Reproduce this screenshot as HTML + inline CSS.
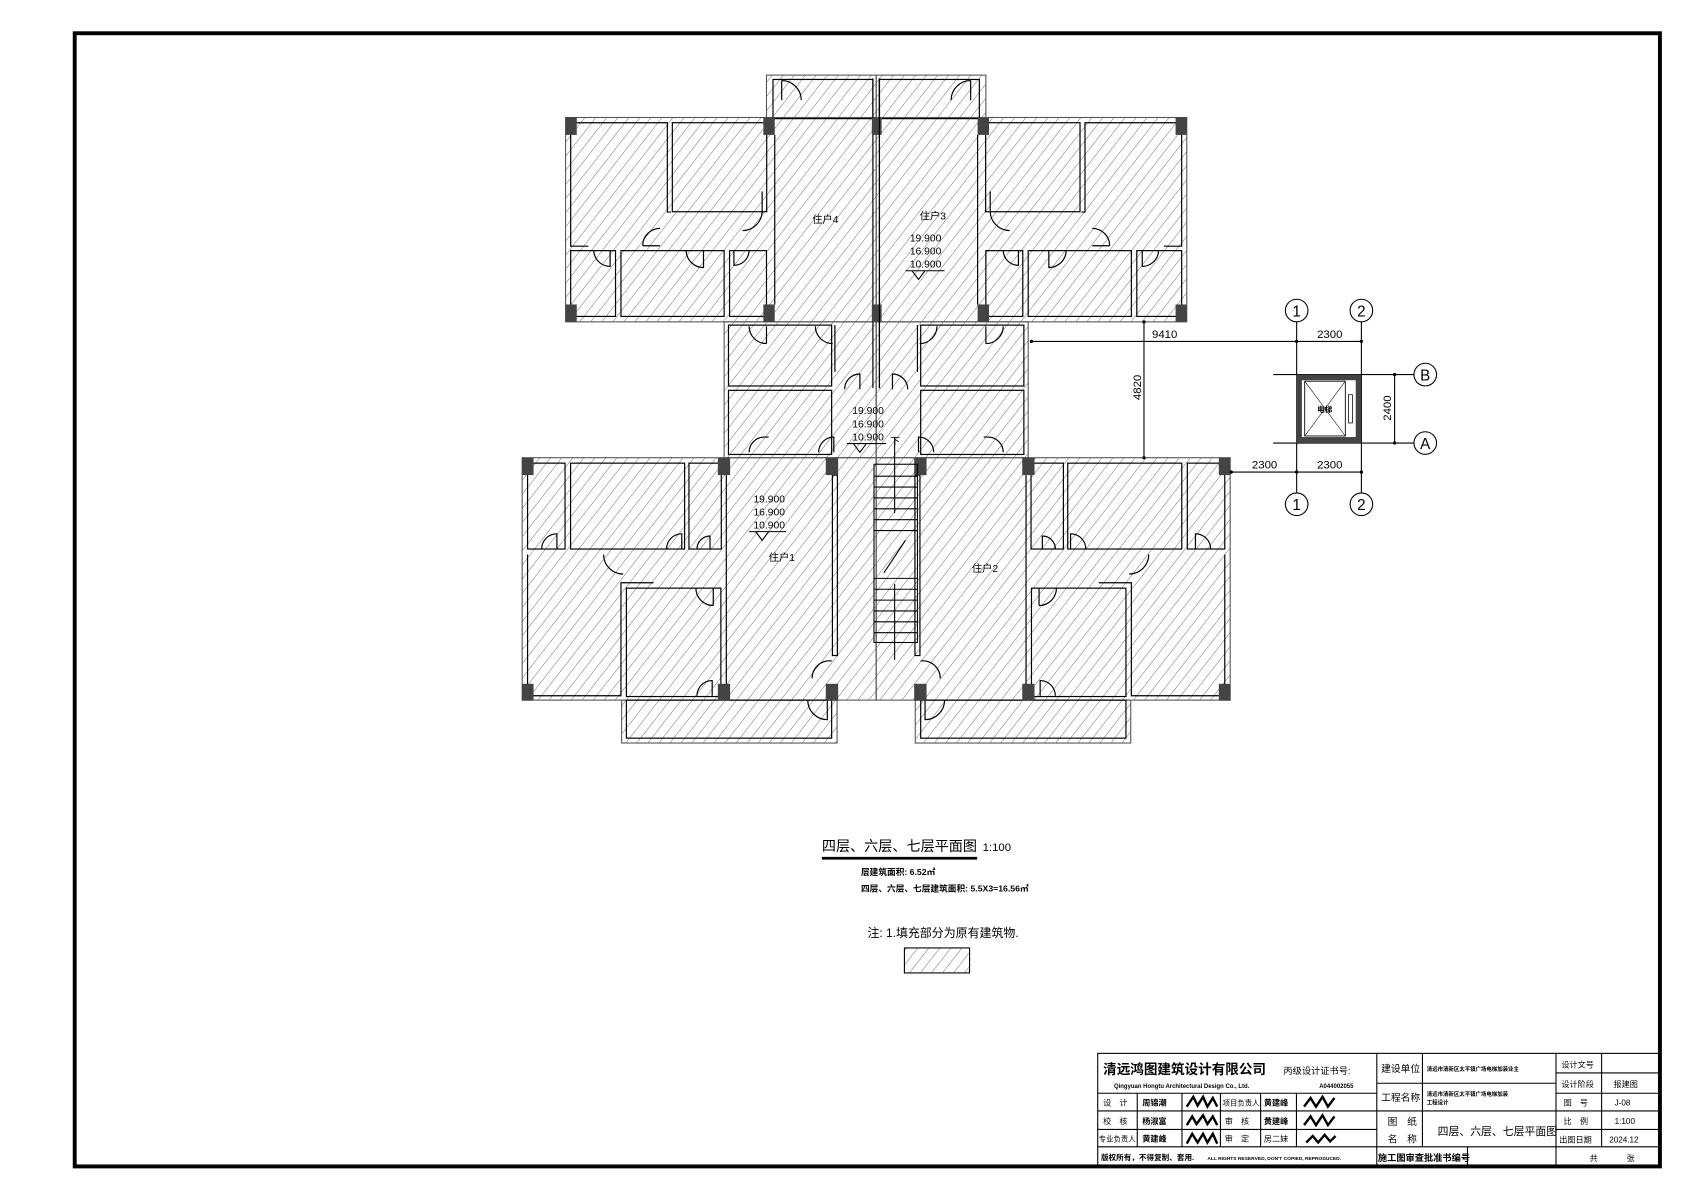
<!DOCTYPE html>
<html><head><meta charset="utf-8"><style>
html,body{margin:0;padding:0;background:#fff;}
svg{display:block;}
text{font-family:"Liberation Sans","Noto Sans CJK SC",sans-serif;}
.c{font-family:"Liberation Sans","Noto Sans CJK SC",sans-serif;}
</style></head><body>
<svg width="1700" height="1200" viewBox="-1.8 -2.1 1565.4 1104" preserveAspectRatio="none" xmlns="http://www.w3.org/2000/svg">
<defs>
<pattern id="h" patternUnits="userSpaceOnUse" width="8" height="8" patternTransform="rotate(38)">
<line x1="0" y1="0" x2="0" y2="8" stroke="#222" stroke-width="0.6"/>
</pattern>
<g id="half">
 <g fill="none" stroke="#555" stroke-width="1">
 <rect x="704" y="67" width="101" height="40"/>
 <rect x="519" y="106" width="286" height="188"/>
 <rect x="665" y="294" width="140" height="125"/>
 <rect x="479" y="419" width="326" height="223"/>
 <rect x="570.6" y="642" width="198.4" height="39.5"/>
 </g>
 <g fill="none" stroke="#000" stroke-width="1.1">
  <rect x="710" y="71" width="92" height="36"/>
  <path d="M523.7 110.8 H612.7 V193 H616 M523.7 110.8 V224.4 H540"/>
  <rect x="617.3" y="110.8" width="86.9" height="81.9"/>
  <rect x="523.7" y="228.5" width="41.3" height="60.5"/>
  <rect x="570" y="228.5" width="95" height="60.5"/>
  <rect x="670" y="228.5" width="34" height="60.5"/>
  <line x1="711.6" y1="122" x2="711.6" y2="278"/>
  <line x1="802" y1="70" x2="802" y2="355"/>
  <rect x="669" y="297" width="95" height="56"/>
  <rect x="669" y="357" width="95" height="59"/>
  <line x1="767" y1="297" x2="767" y2="340"/>
  <rect x="484" y="424" width="34.5" height="79"/>
  <rect x="523.6" y="424" width="105" height="79"/>
  <rect x="632.6" y="424" width="29.8" height="79"/>
  <path d="M484 508 V638 H570 V534 H600"/>
  <rect x="575" y="539" width="87" height="99.7"/>
  <line x1="667" y1="435" x2="667" y2="628"/>
  <rect x="764.7" y="435" width="4.6" height="166"/>
  <rect x="575" y="642" width="189" height="35"/>
  <path d="M590 224 a16 16 0 0 1 16 -16 M590 224 h16"/>
  <path d="M700 192 a18 18 0 0 1 -18 18 M700 174 v18"/>
  <path d="M545 228 a15 15 0 0 0 15 15 v-15"/>
  <path d="M630 228 a16 16 0 0 0 16 16 v-16"/>
  <path d="M674 228 v14 a14 14 0 0 0 14 -14"/>
  <path d="M718 72 a18 18 0 0 1 18 18 M718 72 v18"/>
  <path d="M688 298 a16 16 0 0 0 16 16 M704 298 v16"/>
  <path d="M749 298 a16 16 0 0 0 16 16"/>
  <path d="M688 414 a14 14 0 0 1 14 -14 h4"/>
  <path d="M752 414 a14 14 0 0 1 14 -14 v14"/>
  <path d="M776 356 a14 14 0 0 1 14 -14 v14"/>
  <path d="M497 503 a14 14 0 0 1 14 -14 v14"/>
  <path d="M554 508 a18 18 0 0 0 18 18"/>
  <path d="M612 503 a14 14 0 0 1 14 -14 v14"/>
  <path d="M640 503 a12 12 0 0 1 12 -12 v12"/>
  <path d="M655 555 a16 16 0 0 1 -16 -16 M655 539 v16"/>
  <path d="M640 638 a14 14 0 0 1 14 -14 v14"/>
  <path d="M746 622 a16 16 0 0 1 18 -16"/>
  <path d="M742 642 a18 18 0 0 0 18 18 v-18"/>
 </g>
 <g fill="#444">
  <rect x="519" y="106" width="10.3" height="16"/>
  <rect x="701.1" y="106" width="10.5" height="16"/>
  <rect x="519" y="278" width="10.3" height="16"/>
  <rect x="701.1" y="278" width="10.5" height="16"/>
  <rect x="479" y="419" width="10.5" height="16"/>
  <rect x="659.2" y="419" width="11.3" height="16"/>
  <rect x="758.6" y="419" width="11.4" height="16"/>
  <rect x="479" y="627" width="10.5" height="15.5"/>
  <rect x="659.2" y="627" width="11.3" height="15.5"/>
  <rect x="758.6" y="627" width="11.4" height="15.5"/>
 </g>
</g>
</defs>

<rect x="67" y="28.5" width="1459.7" height="1042.5" fill="none" stroke="#000" stroke-width="3.6"/>

<g fill="url(#h)" stroke="none">
 <rect x="704" y="67" width="202" height="40"/>
 <rect x="519" y="106" width="572" height="188"/>
 <rect x="665" y="294" width="280" height="125"/>
 <rect x="479" y="419" width="652" height="223"/>
 <rect x="570.6" y="642" width="198.4" height="39.5"/>
 <rect x="841" y="642" width="198.4" height="39.5"/>
</g>

<use href="#half"/>
<use href="#half" transform="translate(1610,0) scale(-1,1)"/>
<g fill="#444">
 <rect x="801" y="106" width="9" height="16"/>
 <rect x="801" y="278" width="9" height="16"/>
</g>
<line x1="808" y1="70" x2="808" y2="355" stroke="#000" stroke-width="1.1"/>
<rect x="803" y="425" width="40" height="164" fill="none" stroke="#000" stroke-width="1"/>
<g stroke="#000" stroke-width="1">
 <line x1="803" y1="436" x2="843" y2="436"/><line x1="803" y1="446" x2="843" y2="446"/>
 <line x1="803" y1="456" x2="843" y2="456"/><line x1="803" y1="466" x2="843" y2="466"/>
 <line x1="803" y1="476" x2="843" y2="476"/><line x1="803" y1="486" x2="843" y2="486"/>
 <line x1="803" y1="530" x2="843" y2="530"/><line x1="803" y1="540" x2="843" y2="540"/>
 <line x1="803" y1="550" x2="843" y2="550"/><line x1="803" y1="560" x2="843" y2="560"/>
 <line x1="803" y1="570" x2="843" y2="570"/><line x1="803" y1="580" x2="843" y2="580"/>
 <line x1="822" y1="400" x2="822" y2="470"/>
 <line x1="822" y1="535" x2="822" y2="605"/>
 <line x1="812" y1="525" x2="832" y2="495"/>
</g>
<text x="818" y="407" font-size="9">下</text>

<g font-size="9.5">
<text x="746" y="203" class="c">住户4</text>
<text x="845" y="200" class="c">住户3</text>
<text x="836" y="220">19.900</text><text x="836" y="232">16.900</text><text x="836" y="244">10.900</text>
<line x1="832" y1="247" x2="868" y2="247" stroke="#000"/><path d="M838 247 l6 8 l6 -8" fill="none" stroke="#000"/>
<text x="783" y="379">19.900</text><text x="783" y="391">16.900</text><text x="783" y="403">10.900</text>
<line x1="778" y1="406" x2="814" y2="406" stroke="#000"/><path d="M784 406 l6 8 l6 -8" fill="none" stroke="#000"/>
<text x="692" y="460">19.900</text><text x="692" y="472">16.900</text><text x="692" y="484">10.900</text>
<line x1="688" y1="487" x2="722" y2="487" stroke="#000"/><path d="M694 487 l6 8 l6 -8" fill="none" stroke="#000"/>
<text x="706" y="514" class="c">住户1</text>
<text x="893" y="524" class="c">住户2</text>
</g>

<g stroke="#000" stroke-width="1" fill="none">
 <line x1="946.6" y1="312" x2="1252" y2="312"/>
 <line x1="1051.6" y1="293.5" x2="1051.6" y2="419.4"/>
 <line x1="1131.4" y1="432.2" x2="1252" y2="432.2"/>
 <line x1="1282.4" y1="342.5" x2="1282.4" y2="405.5"/>
 <line x1="1170.5" y1="342.5" x2="1300.5" y2="342.5"/>
 <line x1="1170.5" y1="405.5" x2="1300.5" y2="405.5"/>
 <line x1="1192.2" y1="294" x2="1192.2" y2="451.4"/>
 <line x1="1251.8" y1="294" x2="1251.8" y2="451.4"/>
 <circle cx="1192.2" cy="283.6" r="10.4"/><circle cx="1251.8" cy="283.6" r="10.4"/>
 <circle cx="1192.2" cy="461.8" r="10.4"/><circle cx="1251.8" cy="461.8" r="10.4"/>
 <circle cx="1310.6" cy="342.5" r="10.4"/><circle cx="1310.6" cy="405.5" r="10.4"/>
</g>
<g fill="#000">
 <circle cx="948" cy="312" r="1.5"/><circle cx="1192.2" cy="312" r="1.5"/><circle cx="1251.8" cy="312" r="1.5"/>
 <circle cx="1192.2" cy="432.2" r="1.5"/><circle cx="1251.8" cy="432.2" r="1.5"/><circle cx="1132" cy="432.2" r="1.5"/>
 <circle cx="1282.4" cy="342.5" r="1.5"/><circle cx="1282.4" cy="405.5" r="1.5"/>
 <circle cx="1051.6" cy="294" r="1.5"/><circle cx="1051.6" cy="419" r="1.5"/>
</g>
<rect x="1192" y="342.5" width="59.6" height="63" fill="#444"/>
<rect x="1197" y="347.7" width="49.6" height="52.3" fill="#fff"/>
<rect x="1199.6" y="348.6" width="37.4" height="50.4" fill="none" stroke="#000" stroke-width="0.8"/>
<path d="M1199.6 348.6 L1237 399 M1237 348.6 L1199.6 399" stroke="#000" stroke-width="0.5"/>
<rect x="1240" y="361" width="3.5" height="26" fill="none" stroke="#000" stroke-width="0.7"/>
<text x="1211" y="377" font-size="7" font-weight="bold" class="c">电梯</text>
<g font-size="10.5">
<text x="1059" y="309">9410</text>
<text x="1211" y="309">2300</text>
<text x="1151" y="429">2300</text>
<text x="1211" y="429">2300</text>
<text transform="translate(1049,366) rotate(-90)">4820</text>
<text transform="translate(1279,385) rotate(-90)">2400</text>
</g>
<g font-size="14" text-anchor="middle">
<text x="1192.2" y="289">1</text><text x="1251.8" y="289">2</text>
<text x="1192.2" y="467">1</text><text x="1251.8" y="467">2</text>
<text x="1310.6" y="348">B</text><text x="1310.6" y="411">A</text>
</g>

<text x="755" y="781" font-size="13" class="c">四层、六层、七层平面图</text>
<text x="903" y="781" font-size="10.5">1:100</text>
<line x1="755" y1="787.5" x2="898" y2="787.5" stroke="#000" stroke-width="2.5"/>
<text x="791" y="803" font-size="8" font-weight="bold" class="c">层建筑面积: 6.52㎡</text>
<text x="791" y="818" font-size="8" font-weight="bold" class="c">四层、六层、七层建筑面积: 5.5X3=16.56㎡</text>
<text x="797" y="860" font-size="11" class="c">注: 1.填充部分为原有建筑物.</text>
<rect x="831" y="870" width="60" height="23" fill="url(#h)" stroke="#000" stroke-width="1"/>

<g stroke="#000" stroke-width="1" fill="none">
 <rect x="1009" y="967" width="517" height="104"/>
 <line x1="1009" y1="1003.7" x2="1266" y2="1003.7"/>
 <line x1="1009" y1="1020" x2="1266" y2="1020"/>
 <line x1="1009" y1="1037" x2="1266" y2="1037"/>
 <line x1="1009" y1="1053" x2="1526" y2="1053"/>
 <line x1="1045.4" y1="1003.7" x2="1045.4" y2="1053"/>
 <line x1="1086.6" y1="1003.7" x2="1086.6" y2="1053"/>
 <line x1="1122" y1="1003.7" x2="1122" y2="1053"/>
 <line x1="1159" y1="1003.7" x2="1159" y2="1053"/>
 <line x1="1192" y1="1003.7" x2="1192" y2="1053"/>
 <line x1="1266" y1="967" x2="1266" y2="1071"/>
 <line x1="1308" y1="967" x2="1308" y2="1053"/>
 <line x1="1266" y1="994.5" x2="1431" y2="994.5"/>
 <line x1="1266" y1="1020" x2="1431" y2="1020"/>
 <line x1="1431" y1="967" x2="1431" y2="1071"/>
 <line x1="1473" y1="967" x2="1473" y2="1053"/>
 <line x1="1349.5" y1="1053" x2="1349.5" y2="1071"/>
 <line x1="1431" y1="985" x2="1526" y2="985"/>
 <line x1="1431" y1="1003.7" x2="1526" y2="1003.7"/>
 <line x1="1431" y1="1020" x2="1526" y2="1020"/>
 <line x1="1431" y1="1037" x2="1526" y2="1037"/>
</g>
<g class="c" font-size="7.5">
<text x="1014" y="986" font-size="12.5" font-weight="bold">清远鸿图建筑设计有限公司</text>
<text x="1180" y="986" font-size="8.5">丙级设计证书号:</text>
<text x="1024" y="999" font-size="5.5" font-weight="bold">Qingyuan  Hongtu Architectural Design Co., Ltd.</text>
<text x="1213" y="999" font-size="5.5" font-weight="bold">A044002055</text>
<text x="1014" y="1015">设　计</text><text x="1050" y="1015" font-weight="bold">周锦潮</text>
<text x="1124" y="1015" font-size="6.8">项目负责人</text><text x="1162" y="1015" font-weight="bold">黄建峰</text>
<text x="1014" y="1032">校　核</text><text x="1050" y="1032" font-weight="bold">杨淑富</text>
<text x="1126" y="1032">审　核</text><text x="1162" y="1032" font-weight="bold">黄建峰</text>
<text x="1010" y="1048" font-size="6.8">专业负责人</text><text x="1050" y="1048" font-weight="bold">黄建峰</text>
<text x="1126" y="1048">审　定</text><text x="1162" y="1048">房二妹</text>
<text x="1012" y="1065" font-weight="bold" font-size="7">版权所有，不得复制、套用.</text>
<text x="1110" y="1065" font-size="4.5" font-weight="bold">ALL RIGHTS RESERVED, DON'T COPIED, REPRODUCED.</text>
<text x="1270" y="984" font-size="9">建设单位</text>
<text x="1312" y="983" font-size="5" font-weight="bold">清远市清新区太平镇广场电梯加装业主</text>
<text x="1270" y="1011" font-size="9">工程名称</text>
<text x="1312" y="1006" font-size="5" font-weight="bold">清远市清新区太平镇广场电梯加装</text>
<text x="1312" y="1014" font-size="5" font-weight="bold">工程设计</text>
<text x="1276" y="1033" font-size="9">图　纸</text>
<text x="1276" y="1049" font-size="9">名　称</text>
<text x="1322" y="1042" font-size="10">四层、六层、七层平面图</text>
<text x="1267" y="1066" font-size="8.5" font-weight="bold">施工图审查批准书编号</text>
<text x="1436" y="980">设计文号</text>
<text x="1436" y="998">设计阶段</text><text x="1484" y="998">报建图</text>
<text x="1438" y="1015">图　号</text><text x="1485" y="1015">J-08</text>
<text x="1438" y="1032">比　例</text><text x="1485" y="1032">1:100</text>
<text x="1434" y="1049">出图日期</text><text x="1480" y="1049">2024.12</text>
<text x="1462" y="1066">共</text><text x="1496" y="1066">张</text>
</g>
<g stroke="#000" stroke-width="2.2" fill="none">
 <path d="M1091 1016 l6 -9 l4 8 l5 -8 l4 9 l5 -8 l4 8"/>
 <path d="M1091 1033 l5 -8 l4 7 l6 -8 l4 8 l5 -7 l4 8"/>
 <path d="M1091 1050 l5 -9 l5 8 l5 -8 l4 8 l5 -8 l4 9"/>
 <path d="M1199 1016 l6 -8 l5 8 l6 -9 l5 9 l6 -8"/>
 <path d="M1199 1033 l6 -8 l5 8 l6 -9 l5 9 l6 -8"/>
 <path d="M1201 1049 l6 -6 l5 6 l6 -7 l5 6 l5 -5"/>
</g>
</svg>
</body></html>
